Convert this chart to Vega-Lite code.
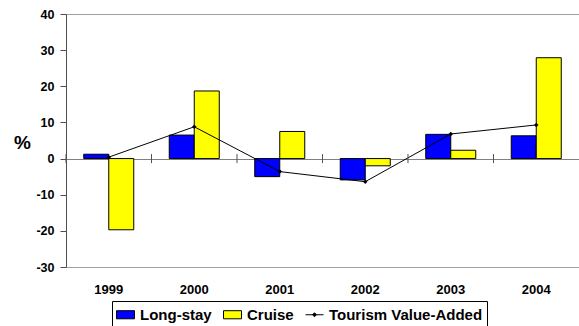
{
  "$schema": "https://vega.github.io/schema/vega-lite/v6.json",
  "width": 513,
  "height": 253,
  "autosize": {"type": "none"},
  "padding": {"left": 66, "top": 14, "right": 0, "bottom": 59},
  "background": "white",
  "config": {
    "view": {"stroke": null},
    "font": "Liberation Sans"
  },
  "data": {
    "values": [
      {"year": "1999", "series": "Long-stay", "value": 1.2},
      {"year": "1999", "series": "Cruise", "value": -19.7},
      {"year": "1999", "series": "Tourism Value-Added", "value": 0.4},
      {"year": "2000", "series": "Long-stay", "value": 6.5},
      {"year": "2000", "series": "Cruise", "value": 18.7},
      {"year": "2000", "series": "Tourism Value-Added", "value": 8.8},
      {"year": "2001", "series": "Long-stay", "value": -5.0},
      {"year": "2001", "series": "Cruise", "value": 7.5},
      {"year": "2001", "series": "Tourism Value-Added", "value": -3.6},
      {"year": "2002", "series": "Long-stay", "value": -5.9},
      {"year": "2002", "series": "Cruise", "value": -2.0},
      {"year": "2002", "series": "Tourism Value-Added", "value": -6.4},
      {"year": "2003", "series": "Long-stay", "value": 6.7},
      {"year": "2003", "series": "Cruise", "value": 2.3},
      {"year": "2003", "series": "Tourism Value-Added", "value": 6.8},
      {"year": "2004", "series": "Long-stay", "value": 6.3},
      {"year": "2004", "series": "Cruise", "value": 27.9},
      {"year": "2004", "series": "Tourism Value-Added", "value": 9.3}
    ]
  },
  "resolve": {"axis": {"x": "independent"}},
  "encoding": {
    "y": {
      "field": "value",
      "type": "quantitative",
      "scale": {"domain": [-30, 40], "nice": false},
      "axis": {
        "values": [-30, -20, -10, 0, 10, 20, 30, 40],
        "labelOverlap": false,
        "labelExpr": "'' + datum.value",
        "grid": true,
        "gridColor": {"condition": {"test": "datum.value === 0", "value": "#808080"}, "value": "#a0a0a0"},
        "gridOpacity": {"condition": {"test": "datum.value === 0 || datum.value === 40 || datum.value === -30", "value": 1}, "value": 0},
        "gridWidth": 1,
        "domainColor": "#505050",
        "tickColor": "#505050",
        "tickSize": 6,
        "labelPadding": 6,
        "labelFont": "Liberation Sans",
        "labelFontSize": 12.5,
        "labelFontWeight": "bold",
        "labelColor": "black",
        "title": "%",
        "titleAngle": 0,
        "titleX": -44,
        "titleY": 128,
        "titleAlign": "center",
        "titleBaseline": "middle",
        "titleFont": "Liberation Sans",
        "titleFontSize": 19,
        "titleFontWeight": "bold",
        "titleColor": "black"
      }
    }
  },
  "layer": [
    {
      "transform": [{"filter": "datum.series !== 'Tourism Value-Added'"}],
      "mark": {"type": "bar", "stroke": "black", "strokeWidth": 1},
      "encoding": {
        "x": {
          "field": "year",
          "type": "nominal",
          "sort": null,
          "scale": {"paddingInner": 0.415, "paddingOuter": 0.2075},
          "axis": {
            "orient": "bottom",
            "title": null,
            "domain": false,
            "ticks": false,
            "tickSize": 0,
            "grid": false,
            "labelAngle": 0,
            "labelPadding": 16,
            "labelFont": "Liberation Sans",
            "labelFontSize": 13,
            "labelFontWeight": "bold",
            "labelColor": "black"
          }
        },
        "xOffset": {
          "field": "series",
          "type": "nominal",
          "sort": null,
          "scale": {"domain": ["Long-stay", "Cruise"], "paddingInner": 0, "paddingOuter": 0}
        },
        "color": {
          "field": "series",
          "type": "nominal",
          "scale": {
            "domain": ["Long-stay", "Cruise", "Tourism Value-Added"],
            "range": ["#0000ff", "#ffff00", "#000000"]
          },
          "legend": {
            "title": null,
            "orient": "none",
            "legendX": 46,
            "legendY": 287,
            "direction": "horizontal",
            "strokeColor": "black",
            "fillColor": "white",
            "padding": 4,
            "columnPadding": 9,
            "labelOffset": 5,
            "labelFont": "Liberation Sans",
            "labelFontSize": 15,
            "labelFontWeight": "bold",
            "labelColor": "black",
            "symbolSize": 324,
            "symbolStrokeColor": "black",
            "symbolStrokeWidth": 1,
            "encode": {
              "symbols": {
                "update": {
                  "shape": {"signal": "datum.value === 'Tourism Value-Added' ? 'M-1,0H1M0,-0.22L0.22,0L0,0.22L-0.22,0Z' : 'M-1,-0.45H1V0.45H-1Z'"},
                  "stroke": {"value": "black"},
                  "strokeWidth": {"value": 1}
                }
              }
            }
          }
        }
      }
    },
    {
      "transform": [{"filter": "datum.series === 'Tourism Value-Added'"}],
      "mark": {"type": "line", "color": "black", "strokeWidth": 1},
      "encoding": {
        "x": {"field": "year", "type": "nominal", "sort": null, "axis": null}
      }
    },
    {
      "transform": [{"filter": "datum.series === 'Tourism Value-Added'"}],
      "mark": {"type": "point", "shape": "diamond", "filled": true, "color": "black", "size": 20, "opacity": 1},
      "encoding": {
        "x": {"field": "year", "type": "nominal", "sort": null, "axis": null}
      }
    },
    {
      "transform": [{"filter": "datum.series === 'Tourism Value-Added'"}],
      "mark": {"type": "rule", "color": "#505050", "strokeWidth": 1},
      "encoding": {
        "x": {"field": "year", "type": "nominal", "sort": null, "bandPosition": -0.355, "axis": null},
        "y": {
          "datum": 1.25,
          "type": "quantitative",
          "scale": {"domain": [-30, 40], "nice": false},
          "axis": {
            "values": [-30, -20, -10, 0, 10, 20, 30, 40],
            "labelOverlap": false,
            "labelExpr": "'' + datum.value",
            "grid": true,
            "gridColor": {"condition": {"test": "datum.value === 0", "value": "#808080"}, "value": "#a0a0a0"},
            "gridOpacity": {"condition": {"test": "datum.value === 0 || datum.value === 40 || datum.value === -30", "value": 1}, "value": 0},
            "gridWidth": 1,
            "domainColor": "#505050",
            "tickColor": "#505050",
            "tickSize": 6,
            "labelPadding": 6,
            "labelFont": "Liberation Sans",
            "labelFontSize": 12.5,
            "labelFontWeight": "bold",
            "labelColor": "black",
            "title": "%",
            "titleAngle": 0,
            "titleX": -44,
            "titleY": 128,
            "titleAlign": "center",
            "titleBaseline": "middle",
            "titleFont": "Liberation Sans",
            "titleFontSize": 19,
            "titleFontWeight": "bold",
            "titleColor": "black"
          }
        },
        "y2": {"datum": -1.25}
      }
    }
  ]
}
